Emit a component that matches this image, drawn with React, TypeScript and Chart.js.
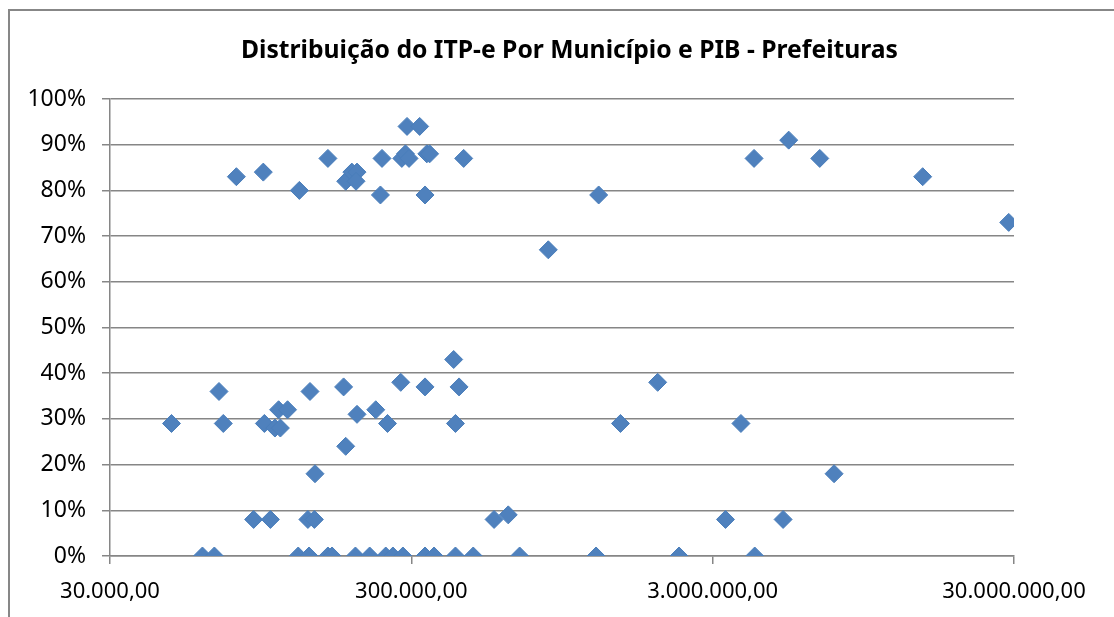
import { useEffect, useRef } from "react";
import { Chart, registerables } from "chart.js";

Chart.register(...registerables);

const chartTitle = "Distribuição do ITP-e Por Município e PIB - Prefeituras";

const pibValues = [
  78800, 96800, 127500, 158600, 181700, 190400, 198100, 196600, 239800, 236900,
  290300, 319700, 279000, 286800, 294800, 337700, 345000, 333100, 447600, 854400,
  1255500, 4116000, 5364000, 6801000, 14931000, 28815000,
  48000, 69000, 71300, 60800, 66600, 89900, 102200, 97600, 105800, 110300,
  108800, 116500, 126400, 137300, 138300, 136100, 143000, 143700, 158600, 163700,
  178800, 181700, 198100, 195700, 218200, 228600, 250100, 246700, 260600, 276700,
  281300, 333100, 333100, 356900, 414600, 432000, 420300, 420300, 481500, 564600,
  629100, 686400, 1970700, 1482900, 3723000, 7587000, 3309000, 5139000, 1230600,
  2320200, 4137000,
];

const itpValues = [
  83, 84, 80, 87, 82, 84, 84, 82, 87, 79,
  94, 94, 87, 88, 87, 88, 88, 79, 87, 67,
  79, 87, 91, 87, 83, 73,
  29, 36, 29, 0, 0, 8, 8, 29, 28, 28,
  32, 32, 0, 0, 36, 8, 8, 18, 0, 0,
  37, 24, 31, 0, 0, 32, 29, 0, 0, 38,
  0, 37, 0, 0, 43, 37, 29, 0, 0, 8,
  9, 0, 38, 29, 29, 18, 8, 8, 0,
  0, 0,
];

const xTickValues = [30000, 300000, 3000000, 30000000];
const xTickLabels = ["30.000,00", "300.000,00", "3.000.000,00", "30.000.000,00"];
const yTickValues = [0, 10, 20, 30, 40, 50, 60, 70, 80, 90, 100];
const yTickLabels = ["0%", "10%", "20%", "30%", "40%", "50%", "60%", "70%", "80%", "90%", "100%"];

export default function App() {
  const ref = useRef<HTMLCanvasElement>(null);

  useEffect(() => {
    if (!ref.current) return;
    const titlePlugin = {
      id: "customTitle",
      afterDraw(chart: any) {
        const ctx = chart.ctx;
        ctx.save();
        ctx.font = "bold 24.7px 'Noto Sans'";
        ctx.fillStyle = "#000";
        ctx.textAlign = "center";
        ctx.textBaseline = "alphabetic";
        ctx.fillText(chartTitle, 569.5, 58);
        ctx.restore();
      },
    };
    const gridColor = "#868686";
    const chart = new Chart(ref.current, {
      type: "scatter",
      data: {
        datasets: [
          {
            data: pibValues.map((x, i) => ({ x, y: itpValues[i] })),
            pointStyle: "rectRot",
            pointRadius: 9,
            pointHoverRadius: 9,
            backgroundColor: "#4F81BD",
            borderColor: "#4A7EBB",
            borderWidth: 1,
          },
        ],
      },
      options: {
        animation: false,
        responsive: false,
        events: [],
        layout: { padding: { left: 0, right: 100, top: 99, bottom: 0 } },
        plugins: { legend: { display: false }, tooltip: { enabled: false }, title: { display: false } },
        scales: {
          x: {
            type: "logarithmic",
            min: 30000,
            max: 30000000,
            afterBuildTicks: (s: any) => {
              s.ticks = xTickValues.map((v) => ({ value: v }));
            },
            afterFit: (s: any) => {
              s.height = 61;
            },
            ticks: {
              callback: (_v: any, i: number) => xTickLabels[i],
              font: { family: "'Noto Sans'", size: 22 },
              color: "#000",
              padding: 15,
              maxRotation: 0,
              autoSkip: false,
            },
            grid: { drawOnChartArea: false, drawTicks: true, tickLength: 8, color: gridColor, lineWidth: 1.5 },
            border: { display: true, color: gridColor, width: 1.5 },
          },
          y: {
            min: 0,
            max: 100,
            afterBuildTicks: (s: any) => {
              s.ticks = yTickValues.map((v) => ({ value: v }));
            },
            afterFit: (s: any) => {
              s.width = 110;
            },
            ticks: {
              callback: (_v: any, i: number) => yTickLabels[i],
              font: { family: "'Noto Sans'", size: 23 },
              color: "#000",
              padding: 16,
              autoSkip: false,
            },
            grid: { color: gridColor, lineWidth: 1.5, tickLength: 8 },
            border: { display: true, color: gridColor, width: 1.5 },
          },
        },
      },
      plugins: [titlePlugin],
    });
    return () => chart.destroy();
  }, []);

  return (
    <div
      style={{
        position: "fixed",
        left: 0,
        top: 0,
        width: 1114,
        height: 617,
        overflow: "hidden",
        background: "#fff",
      }}
    >
      <div
        style={{
          position: "absolute",
          left: 8,
          top: 9,
          width: 1200,
          height: 700,
          border: "2px solid #878787",
          boxSizing: "border-box",
        }}
      />
      <canvas ref={ref} width={1114} height={617} style={{ position: "absolute", left: 0, top: 0 }} />
    </div>
  );
}
